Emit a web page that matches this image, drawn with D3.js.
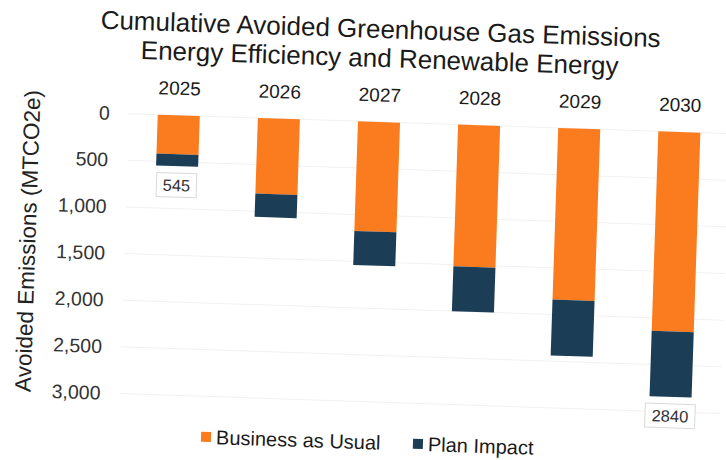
<!DOCTYPE html>
<html>
<head>
<meta charset="utf-8">
<script src="https://cdn.jsdelivr.net/npm/d3@7"></script>
<style>
  html, body { margin: 0; padding: 0; background: #fff; }
  svg { display: block; font-family: "Liberation Sans", Arial, sans-serif; }
</style>
</head>
<body>
<svg id="chart" width="726" height="460"></svg>
<script>
// Cumulative avoided emissions by year (MTCO2e)
const years = ["2025", "2026", "2027", "2028", "2029", "2030"];
const businessAsUsual = [417, 810, 1176, 1519, 1840, 2140];
const planImpact = [128, 250, 364, 481, 599, 700];
const yTicks = [0, 500, 1000, 1500, 2000, 2500, 3000];
const seriesNames = ["Business as Usual", "Plan Impact"];
const seriesColors = ["#FB7B1F", "#1C3D56"];
const labeledYears = ["2025", "2030"];

const rows = years.map((y, i) => ({ year: y, bau: businessAsUsual[i], plan: planImpact[i] }));
const stack = d3.stack().keys(["bau", "plan"])(rows);

const svg = d3.select("#chart");
const root = svg.append("g").attr("transform", "rotate(1.9,363,230)");

const x = d3.scaleBand().domain(years).range([125, 726]).paddingInner(0.58).paddingOuter(0.29);
const y = d3.scaleLinear().domain([0, 3000]).range([121.5, 401.5]);

// title
root.append("text").attr("x", 374).attr("y", 37.5).attr("text-anchor", "middle")
  .attr("font-size", 26).attr("fill", "#1a1a1a")
  .text("Cumulative Avoided Greenhouse Gas Emissions");
root.append("text").attr("x", 374).attr("y", 66.5).attr("text-anchor", "middle")
  .attr("font-size", 26).attr("fill", "#1a1a1a")
  .text("Energy Efficiency and Renewable Energy");

// faint gridlines
root.append("g").selectAll("line").data(yTicks).join("line")
  .attr("x1", 125).attr("x2", 726)
  .attr("y1", d => y(d)).attr("y2", d => y(d))
  .attr("stroke", "#f1f1f1").attr("stroke-width", 1);

// y axis
const yAxis = root.append("g").attr("transform", "translate(106,0)")
  .call(d3.axisLeft(y).tickValues(yTicks).tickSize(0).tickPadding(0).tickFormat(d3.format(",")));
yAxis.select(".domain").remove();
yAxis.selectAll("text").attr("font-size", 19.5).attr("fill", "#333")
  .attr("font-family", "Liberation Sans, Arial, sans-serif");

root.append("text")
  .attr("transform", "translate(36,252) rotate(-90)")
  .attr("text-anchor", "middle").attr("font-size", 22.5).attr("fill", "#222")
  .text("Avoided Emissions (MTCO2e)");

// year labels across top
const xAxis = root.append("g").attr("transform", "translate(0,101)")
  .call(d3.axisTop(x).tickSize(0).tickPadding(0));
xAxis.select(".domain").remove();
xAxis.selectAll("text").attr("font-size", 19).attr("fill", "#1a1a1a")
  .attr("font-family", "Liberation Sans, Arial, sans-serif");

// stacked bars
root.append("g").selectAll("g").data(stack).join("g")
  .attr("fill", (d, i) => seriesColors[i])
  .selectAll("rect").data(d => d).join("rect")
  .attr("x", d => x(d.data.year))
  .attr("width", x.bandwidth())
  .attr("y", d => y(d[0]))
  .attr("height", d => y(d[1]) - y(d[0]));

// total labels
const totals = rows.filter(r => labeledYears.includes(r.year)).map(r => ({ year: r.year, total: r.bau + r.plan }));
const lab = root.append("g").selectAll("g").data(totals).join("g")
  .attr("transform", d => `translate(${x(d.year) + x.bandwidth() / 2},${y(d.total) + 7})`);
lab.append("rect")
  .attr("x", d => d.total >= 1000 ? -25 : -20).attr("y", 0)
  .attr("width", d => d.total >= 1000 ? 50 : 40).attr("height", 24)
  .attr("fill", "#fff").attr("stroke", "#d9d9d9").attr("stroke-width", 1);
lab.append("text").attr("y", 18).attr("text-anchor", "middle")
  .attr("font-size", 16.5).attr("fill", "#333")
  .text(d => d.total);

// legend
const legendX = [208, 420];
const lg = root.append("g").selectAll("g").data(seriesNames).join("g")
  .attr("transform", (d, i) => `translate(${legendX[i]},442)`);
lg.append("rect").attr("x", 0).attr("y", -5).attr("width", 10).attr("height", 10)
  .attr("fill", (d, i) => seriesColors[i]);
lg.append("text").attr("x", 15).attr("y", 7).attr("font-size", 20).attr("fill", "#1a1a1a")
  .text(d => d);
</script>
</body>
</html>
